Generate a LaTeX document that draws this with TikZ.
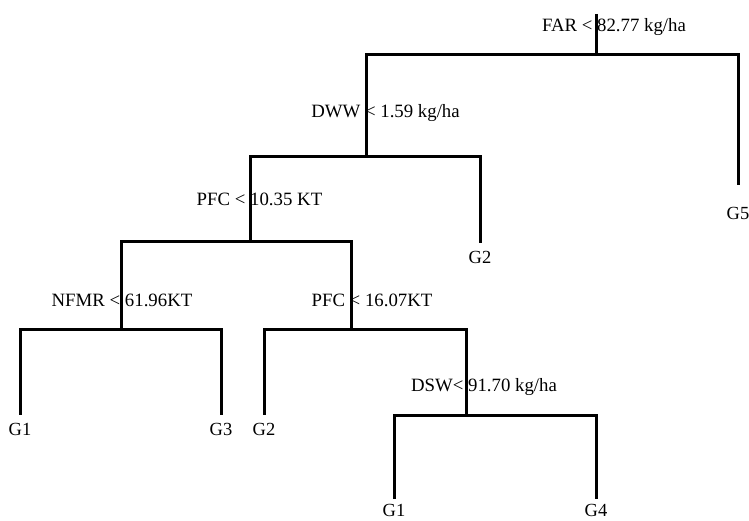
\documentclass[tikz,border=0pt]{standalone}
\usepackage{fontspec}
\setmainfont{Liberation Serif}
\usetikzlibrary{positioning, calc}
\tikzset{
  split/.style={
    inner sep=1pt, font=\fontsize{18.8}{21}\selectfont
  },
  leaf/.style={
    inner sep=3pt, font=\fontsize{18.5}{21}\selectfont
  },
  branch/.style={line width=3pt, black}
}
\begin{document}
\begin{tikzpicture}[x=1pt, y=-1pt]
  \useasboundingbox (0,0) rectangle (749,521);
  % split points
  \coordinate (top) at (596,14);
  \coordinate (far) at (596,55);
  \coordinate (dww) at (366,157);
  \coordinate (pfca) at (250,242);
  \coordinate (nfmr) at (121,329);
  \coordinate (pfcb) at (351,329);
  \coordinate (dsw) at (466,415);
  % split labels
  \node[split] (farlbl) at (614,27) {FAR < 82.77 kg/ha};
  \node[split] (dwwlbl) at (385.5,113) {DWW < 1.59 kg/ha};
  \node[split] (pfcalbl) at (259.5,199) {PFC < 10.35 KT};
  \node[split] (nfmrlbl) at (122,300) {NFMR < 61.96KT};
  \node[split] (pfcblbl) at (372,300) {PFC < 16.07KT};
  \node[split] (dswlbl) at (484,387) {DSW< 91.70 kg/ha};
  % leaves
  \node[leaf] (g5) at (738,213) {G5};
  \node[leaf] (g2top) at (480,257) {G2};
  \node[leaf] (g1left) at (20,429) {G1};
  \node[leaf] (g3) at (221,429) {G3};
  \node[leaf] (g2mid) at (264,429) {G2};
  \node[leaf] (g1bot) at (394,510) {G1};
  \node[leaf] (g4) at (596,510) {G4};
  % branches
  \draw[branch] (top) -- (far);
  \draw[branch] (far) -| (dww);
  \draw[branch, shorten >=19pt] (far) -| (g5);
  \draw[branch] (dww) -| (pfca);
  \draw[branch, shorten >=5pt] (dww) -| (g2top);
  \draw[branch] (pfca) -| (nfmr);
  \draw[branch] (pfca) -| (pfcb);
  \draw[branch, shorten >=5pt] (nfmr) -| (g1left);
  \draw[branch, shorten >=5pt] (nfmr) -| (g3);
  \draw[branch, shorten >=5pt] (pfcb) -| (g2mid);
  \draw[branch] (pfcb) -| (dsw);
  \draw[branch, shorten >=2pt] (dsw) -| (g1bot);
  \draw[branch, shorten >=2pt] (dsw) -| (g4);
\end{tikzpicture}
\end{document}
